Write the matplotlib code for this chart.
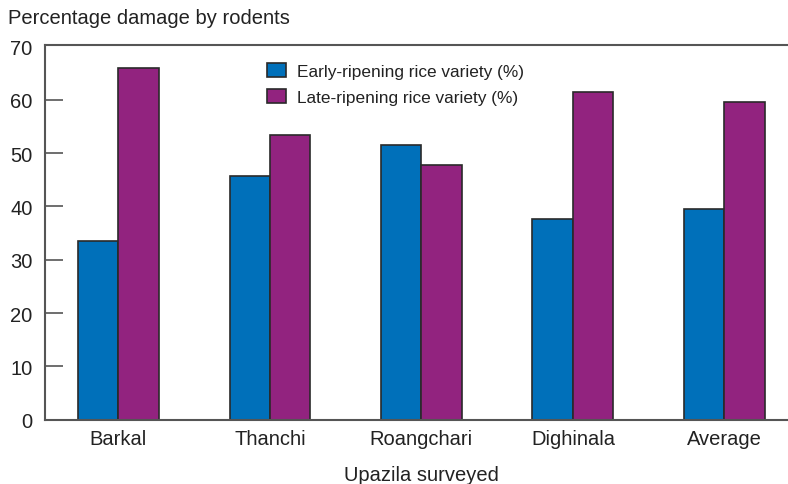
import matplotlib.pyplot as plt
import numpy as np

plt.rcParams['font.family'] = ['Liberation Sans Narrow', 'Liberation Sans', 'DejaVu Sans']

# data
upazilas = ['Barkal', 'Thanchi', 'Roangchari', 'Dighinala', 'Average']
early = [33.6, 45.7, 51.6, 37.7, 39.5]
late = [65.9, 53.5, 47.7, 61.4, 59.6]
yticks = [0, 10, 20, 30, 40, 50, 60, 70]

blue = '#0070ba'
purple = '#92237f'
edge = '#2a2a2a'
spine = '#555555'
text = '#222222'

fig = plt.figure(figsize=(7.88, 4.85), dpi=100)
ax = fig.add_axes([45 / 788, 64.3 / 485, 1 - 45 / 788, 375 / 485])

x = np.arange(len(upazilas))
w = 0.267
ax.bar(x - w / 2, early, w, color=blue, edgecolor=edge, linewidth=1.2,
       label='Early-ripening rice variety (%)')
ax.bar(x + w / 2, late, w, color=purple, edgecolor=edge, linewidth=1.2,
       label='Late-ripening rice variety (%)')

ax.set_xlim(-0.485, 4.42)
ax.set_ylim(0, 70.35)
ax.set_yticks(yticks)
ax.set_xticks(x)
ax.set_xticklabels(upazilas)

for s in ['left', 'top', 'bottom']:
    ax.spines[s].set_color(spine)
    ax.spines[s].set_linewidth(1.5)
ax.spines['right'].set_visible(False)

ax.tick_params(axis='y', direction='in', length=13, width=1.2, color=spine,
               labelsize=14.5, labelcolor=text, pad=9)
ax.tick_params(axis='x', length=0, labelsize=14.5, labelcolor=text, pad=7)
# the end ticks sit on the spines, no mark there
yt = ax.yaxis.get_major_ticks()
yt[0].tick1line.set_visible(False)
yt[-1].tick1line.set_visible(False)

fig.text(8 / 788, 1 - 18 / 485, 'Percentage damage by rodents', fontsize=14.5,
         color=text, ha='left', va='center')
fig.text(421 / 788, 1 - 476 / 485, 'Upazila surveyed', fontsize=14.5,
         color=text, ha='center', va='center')

leg = ax.legend(loc='upper left', bbox_to_anchor=(258 / 788, 1 - 55.5 / 485),
                bbox_transform=fig.transFigure, frameon=False, fontsize=12.4,
                handlelength=1.15, handleheight=0.85, handletextpad=0.6,
                labelspacing=0.6, borderpad=0)
for t in leg.get_texts():
    t.set_color(text)

fig.savefig('out.png', dpi=100)
